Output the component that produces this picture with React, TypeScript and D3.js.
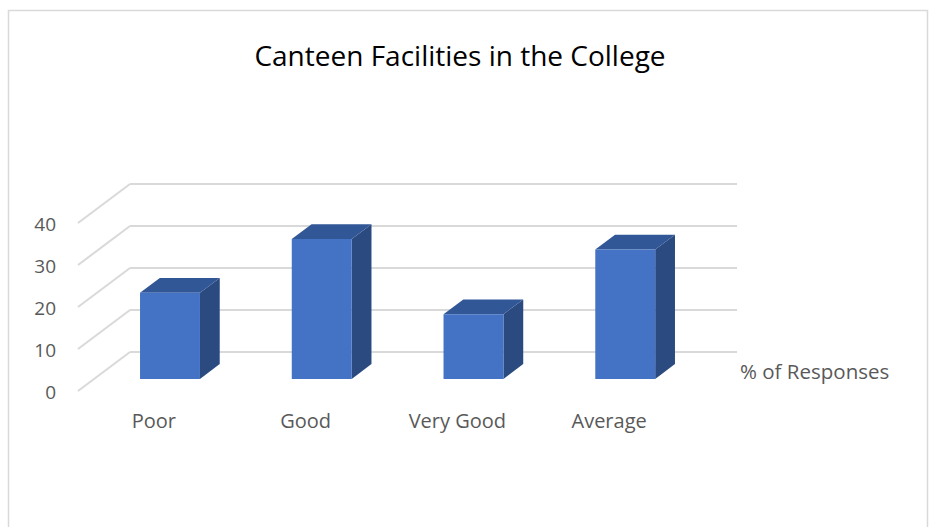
import React from "react";
import * as d3 from "d3";

// data (% of responses)
const categories = ["Poor", "Good", "Very Good", "Average"];
const responses = [20.5, 33.3, 15.4, 30.8];
const yTicks = [0, 10, 20, 30, 40];
const seriesName = "% of Responses";
const title = "Canteen Facilities in the College";

const W = 933;
const H = 527;

// back wall of the 3d plot, and how far the front edge is pushed
const wall = { left: 130, right: 737, bottom: 352, top: 184 };
const depthX = 52;
const depthY = 39;
const barFront = 0.31; // depth fraction (0 = front edge, 1 = back wall)
const barBack = 0.69;
const barShare = 0.395;

const font = "'Open Sans', Carlito, Calibri, sans-serif";

function App() {
  const x = d3.scaleBand().domain(categories).range([wall.left, wall.right]).padding(0);
  const y = d3.scaleLinear().domain([0, 40]).range([wall.bottom, wall.top]);

  // oblique projection: t = 0 front, t = 1 back
  const px = (xb: number, t: number) => xb - depthX * (1 - t);
  const py = (yb: number, t: number) => yb + depthY * (1 - t);

  const bw = x.bandwidth() * barShare;
  const pts = (arr: [number, number][]) => arr.map((p) => p.join(",")).join(" ");

  return (
    <svg
      width={W}
      height={H}
      style={{ position: "absolute", left: 0, top: 0, background: "#fff" }}
    >
      <rect x={8.5} y={10.5} width={919} height={530} fill="#fff" stroke="#d9d9d9" strokeWidth={1.5} />

      <text x={460} y={59} textAnchor="middle" dominantBaseline="middle" fontFamily={font} fontSize={28} fill="#000">
        {title}
      </text>

      {/* gridlines: back wall + floor-side diagonals */}
      <g stroke="#d9d9d9" strokeWidth={2} fill="none">
        {yTicks.map((t) => (
          <g key={t}>
            <line x1={wall.left} x2={wall.right} y1={y(t)} y2={y(t)} />
            <line x1={px(wall.left, 0)} y1={py(y(t), 0)} x2={wall.left} y2={y(t)} />
          </g>
        ))}
      </g>

      {yTicks.map((t) => (
        <text
          key={t}
          x={56}
          y={py(y(t), 0) + 3}
          textAnchor="end"
          dominantBaseline="middle"
          fontFamily={font}
          fontSize={19}
          fill="#595959"
        >
          {t}
        </text>
      ))}

      {categories.map((c, i) => {
        const xc = (x(c) as number) + x.bandwidth() / 2;
        const x0 = xc - bw / 2;
        const x1 = xc + bw / 2;
        const yTop = y(responses[i]);
        const yBase = y(0);
        const front = pts([
          [px(x0, barFront), py(yTop, barFront)],
          [px(x1, barFront), py(yTop, barFront)],
          [px(x1, barFront), py(yBase, barFront)],
          [px(x0, barFront), py(yBase, barFront)],
        ]);
        const top = pts([
          [px(x0, barFront), py(yTop, barFront)],
          [px(x0, barBack), py(yTop, barBack)],
          [px(x1, barBack), py(yTop, barBack)],
          [px(x1, barFront), py(yTop, barFront)],
        ]);
        const side = pts([
          [px(x1, barFront), py(yTop, barFront)],
          [px(x1, barBack), py(yTop, barBack)],
          [px(x1, barBack), py(yBase, barBack)],
          [px(x1, barFront), py(yBase, barFront)],
        ]);
        return (
          <g key={c}>
            <polygon points={side} fill="#2b4a7f" />
            <polygon points={top} fill="#325797" />
            <polygon points={front} fill="#4472c4" />
            <text
              x={px(xc, 0)}
              y={423}
              textAnchor="middle"
              dominantBaseline="middle"
              fontFamily={font}
              fontSize={20}
              fill="#595959"
            >
              {c}
            </text>
          </g>
        );
      })}

      <text x={740} y={374} dominantBaseline="middle" fontFamily={font} fontSize={20.5} fill="#595959">
        {seriesName}
      </text>
    </svg>
  );
}

export default App;
